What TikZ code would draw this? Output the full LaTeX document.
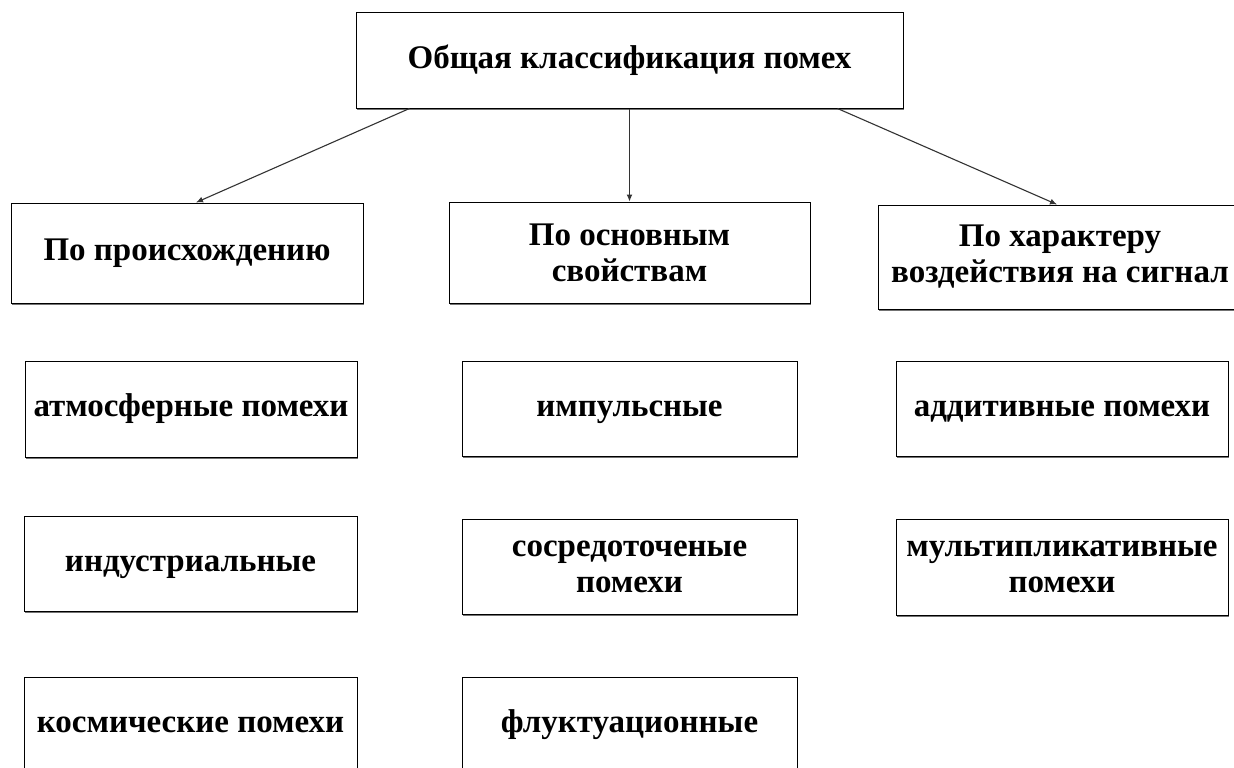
\documentclass[tikz,border=0pt]{standalone}
\usepackage{fontspec}
\setmainfont{Liberation Serif}
\usetikzlibrary{arrows.meta,shadows}
\begin{document}
\begin{tikzpicture}[x=1pt,y=-1pt,
  box/.style={draw=black, line width=1pt, fill=white, inner sep=0pt, align=center,
    font=\fontsize{33}{36}\selectfont\bfseries,
    drop shadow={shadow xshift=0.8pt, shadow yshift=-2pt, fill=black!55, opacity=1}},
  oneline/.style={text height=22pt, text depth=7pt},
  arr/.style={-{Latex[length=7pt,width=6pt]}, draw=black!80, line width=1.1pt}]
\useasboundingbox (0,0) rectangle (1234,768);
\fill[white] (0,0) rectangle (1234,768);
\node[box, oneline, minimum width=547pt, minimum height=95pt] (top) at (629.5,60.5) {Общая классификация помех};
\node[box, oneline, minimum width=352pt, minimum height=100pt] (l1) at (187,253) {По происхождению};
\node[box, minimum width=361pt, minimum height=101pt] (m1) at (629.5,252.5) {По основным\\свойствам};
\node[box, minimum width=364pt, minimum height=104pt] (r1) at (1060,257) {По характеру\\воздействия на сигнал};
\node[box, oneline, minimum width=332pt, minimum height=96pt] (l2) at (191,409) {атмосферные помехи};
\node[box, oneline, minimum width=335pt, minimum height=95pt] (m2) at (629.5,408.5) {импульсные};
\node[box, oneline, minimum width=332pt, minimum height=95pt] (r2) at (1062,408.5) {аддитивные помехи};
\node[box, oneline, minimum width=333pt, minimum height=95pt] (l3) at (190.5,563.5) {индустриальные};
\node[box, minimum width=335pt, minimum height=95pt] (m3) at (629.5,566.5) {сосредоточеные\\помехи};
\node[box, minimum width=332pt, minimum height=96pt] (r3) at (1062,567) {мультипликативные\\помехи};
\node[box, oneline, minimum width=333pt, minimum height=96pt] (l4) at (190.5,725) {космические помехи};
\node[box, oneline, minimum width=335pt, minimum height=96pt] (m4) at (629.5,725) {флуктуационные};
\draw[arr] ([xshift=54pt]top.south west) -- ([xshift=9pt]l1.north);
\draw[arr] (top.south) -- (m1.north);
\draw[arr] ([xshift=-66pt]top.south east) -- ([xshift=-3pt]r1.north);
\end{tikzpicture}
\end{document}
